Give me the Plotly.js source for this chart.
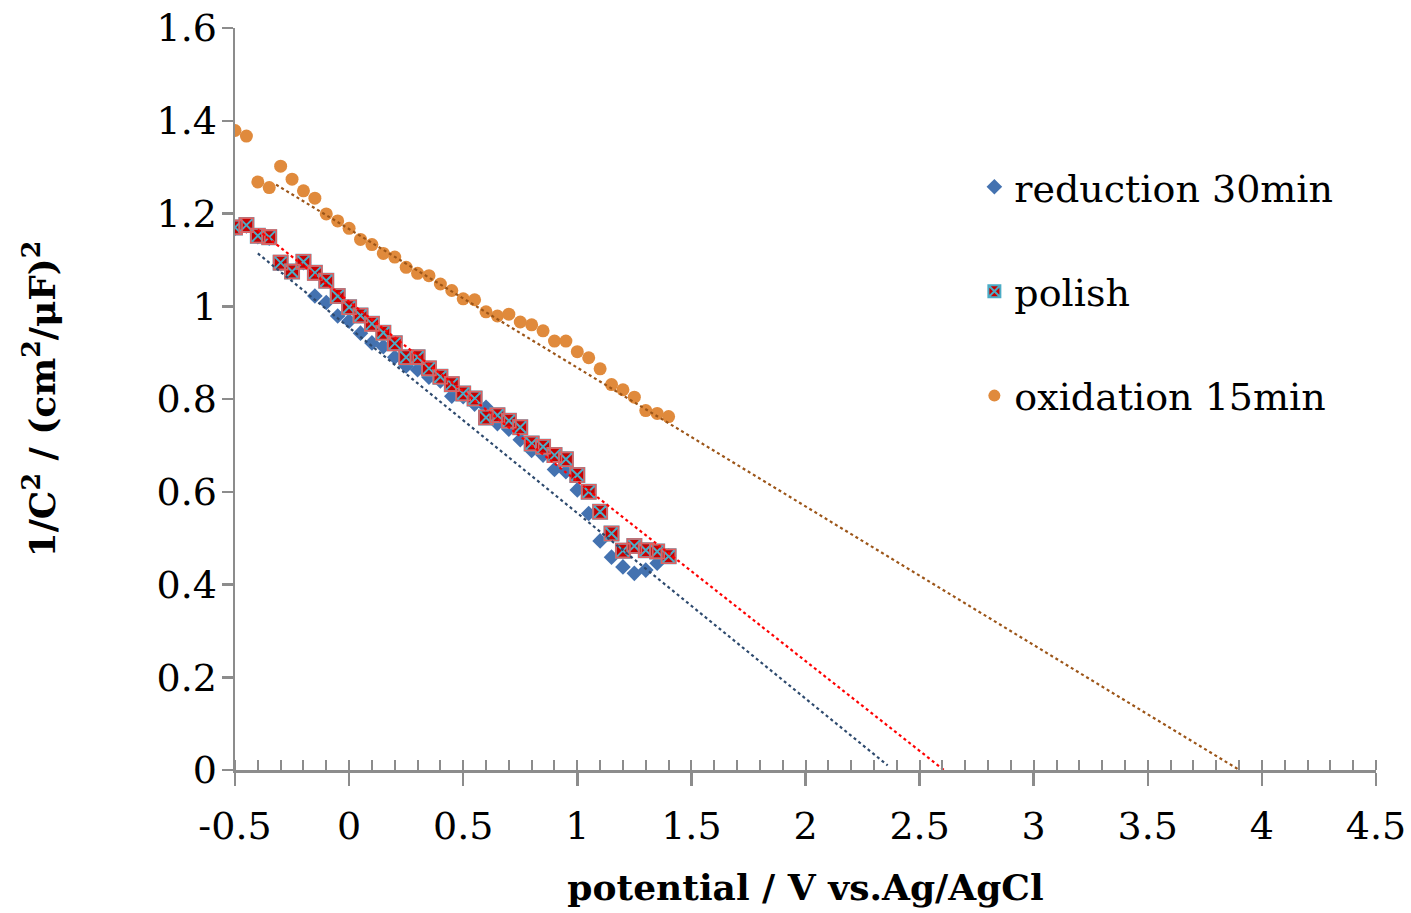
<!DOCTYPE html>
<html>
<head>
<meta charset="utf-8">
<script src="https://cdn.plot.ly/plotly-3.0.1.min.js"></script>
<style>html,body{margin:0;padding:0;background:#fff;}#chart{width:1411px;height:913px;}</style>
</head>
<body>
<div id="chart"></div>
<script>
// potential / V vs. Ag/AgCl
const potential = [-0.5,-0.45,-0.4,-0.35,-0.3,-0.25,-0.2,-0.15,-0.1,-0.05,0,0.05,0.1,0.15,0.2,0.25,0.3,0.35,0.4,0.45,0.5,0.55,0.6,0.65,0.7,0.75,0.8,0.85,0.9,0.95,1.0,1.05,1.1,1.15,1.2,1.25,1.3,1.35,1.4];
const reduction30 = [1.168,1.173,1.150,1.147,1.092,1.073,1.094,1.022,1.008,0.979,0.968,0.942,0.921,0.913,0.890,0.871,0.863,0.847,0.839,0.806,0.805,0.789,0.782,0.747,0.735,0.712,0.689,0.679,0.648,0.643,0.604,0.553,0.494,0.459,0.438,0.424,0.431,0.446,0.462];
const polish = [1.170,1.175,1.152,1.149,1.094,1.075,1.096,1.072,1.055,1.022,0.998,0.980,0.962,0.943,0.920,0.890,0.890,0.866,0.848,0.832,0.812,0.801,0.760,0.765,0.753,0.739,0.704,0.697,0.679,0.670,0.636,0.600,0.557,0.510,0.473,0.483,0.474,0.471,0.461];
const oxidation15 = [1.379,1.367,1.268,1.256,1.302,1.274,1.249,1.233,1.199,1.184,1.168,1.144,1.133,1.114,1.106,1.084,1.071,1.066,1.048,1.034,1.016,1.014,0.988,0.979,0.983,0.966,0.960,0.947,0.925,0.925,0.902,0.889,0.865,0.831,0.820,0.804,0.775,0.769,0.762];
const seriesNames = ['reduction 30min','polish','oxidation 15min'];

// linear trendlines: y = slope*x + intercept, drawn from start to end
const fitSlope = [-0.400, -0.3875, -0.299];
const fitIntercept = [0.954, 1.010, 1.1665];
const fitStart = [-0.4, -0.4, -0.32];
const fitEnd = [2.36, 2.607, 3.90];
const fitColors = ['#2E4A6E', '#FF0000', '#9C5518'];

const xTicks = [-0.5,0,0.5,1,1.5,2,2.5,3,3.5,4,4.5];
const yTicks = [0,0.2,0.4,0.6,0.8,1,1.2,1.4,1.6];

const FONT = 'DejaVu Serif, Liberation Serif, serif';

const traces = [];
traces.push({
  x: potential, y: reduction30, name: seriesNames[0], type: 'scatter', mode: 'markers',
  legendgroup: 'g1',
  marker: {symbol: 'diamond', size: 12, color: '#4472B0', line: {width: 0}}
});
traces.push({
  x: potential, y: polish, name: seriesNames[1], type: 'scatter', mode: 'markers',
  legendgroup: 'g2',
  marker: {symbol: 'square-x', size: 14, color: '#C80000', line: {width: 2, color: '#4BACC6'}}
});
traces.push({
  x: potential, y: polish, name: seriesNames[1], type: 'scatter', mode: 'markers',
  showlegend: false, hoverinfo: 'skip', legendgroup: 'g2',
  marker: {symbol: 'square-open', size: 14, color: '#E06060', line: {width: 1.6, color: '#E06060'}}
});
traces.push({
  x: potential, y: oxidation15, name: seriesNames[2], type: 'scatter', mode: 'markers',
  legendgroup: 'g3',
  marker: {symbol: 'circle', size: 13, color: '#E08A3C', line: {width: 0}}
});
for (let i = 0; i < 3; i++) {
  const xs = [fitStart[i], fitEnd[i]];
  traces.push({
    x: xs, y: xs.map(v => fitSlope[i] * v + fitIntercept[i]),
    type: 'scatter', mode: 'lines', showlegend: false, hoverinfo: 'skip',
    line: {color: fitColors[i], width: 2.2, dash: 'dot'}
  });
}

const layout = {
  width: 1411, height: 913,
  paper_bgcolor: '#ffffff', plot_bgcolor: '#ffffff',
  margin: {l: 235, r: 35, t: 28, b: 143, autoexpand: false},
  font: {family: FONT, size: 38, color: '#000'},
  showlegend: true,
  legend: {
    x: 0.648, y: 0.828, xanchor: 'left', yanchor: 'top',
    font: {family: FONT, size: 38, color: '#000'},
    traceorder: 'grouped', tracegroupgap: 52,
    bgcolor: 'rgba(0,0,0,0)', itemsizing: 'constant'
  },
  xaxis: {
    range: [-0.5, 4.5], tickvals: xTicks, ticktext: xTicks.map(String),
    showgrid: false, zeroline: false,
    showline: true, linecolor: '#8C8C8C', linewidth: 2.5,
    ticks: 'outside', ticklen: 13, tickwidth: 2.5, tickcolor: '#8C8C8C',
    ticklabelstandoff: 8,
    minor: {dtick: 0.1, ticks: 'inside', ticklen: 10, tickwidth: 2, tickcolor: '#8C8C8C', showgrid: false},
    tickfont: {family: FONT, size: 38, color: '#000'},
    title: {text: '<b>potential / V vs.Ag/AgCl</b>', font: {family: FONT, size: 36, color: '#000'}, standoff: 28},
    automargin: false
  },
  yaxis: {
    range: [0, 1.6], tickvals: yTicks, ticktext: yTicks.map(String),
    showgrid: false, zeroline: false,
    showline: true, linecolor: '#8C8C8C', linewidth: 2.5,
    ticks: 'outside', ticklen: 11, tickwidth: 2.5, tickcolor: '#8C8C8C',
    ticklabelstandoff: -3,
    tickfont: {family: FONT, size: 38, color: '#000'},
    title: {text: '<b>1/C<sup>2</sup> / (cm<sup>2</sup>/μF)<sup>2</sup></b>', font: {family: FONT, size: 36, color: '#000'}, standoff: 90},
    automargin: false
  }
};

Plotly.newPlot('chart', traces, layout, {displayModeBar: false, staticPlot: true});
</script>
</body>
</html>
